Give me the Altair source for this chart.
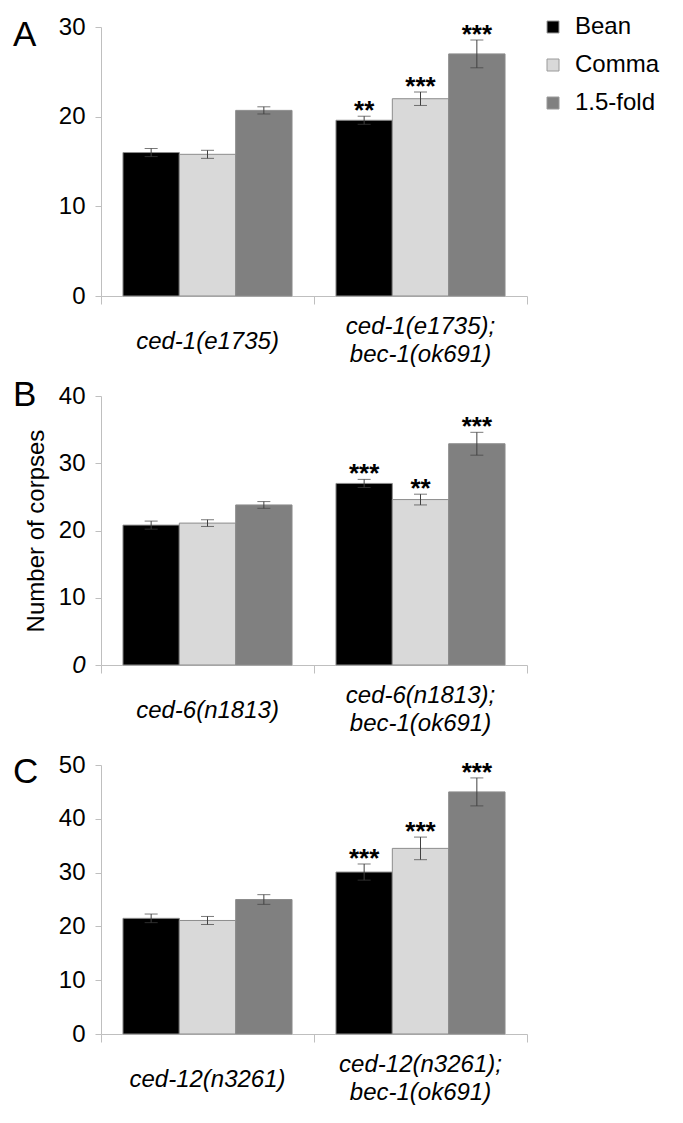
import altair as alt
import pandas as pd

FONT = "Liberation Sans"

stages = ["Bean", "Comma", "1.5-fold"]
stage_colors = ["#000000", "#d9d9d9", "#808080"]

# Panel A
geno_a = ["ced-1(e1735)", "ced-1(e1735);|bec-1(ok691)"]
bean_a = [16.0, 19.6]
comma_a = [15.8, 22.0]
fold_a = [20.7, 27.0]
bean_a_err = [0.45, 0.45]
comma_a_err = [0.45, 0.75]
fold_a_err = [0.4, 1.55]
bean_a_sig = ["", "**"]
comma_a_sig = ["", "***"]
fold_a_sig = ["", "***"]

# Panel B
geno_b = ["ced-6(n1813)", "ced-6(n1813);|bec-1(ok691)"]
bean_b = [20.8, 27.0]
comma_b = [21.1, 24.6]
fold_b = [23.8, 32.9]
bean_b_err = [0.6, 0.6]
comma_b_err = [0.5, 0.8]
fold_b_err = [0.5, 1.7]
bean_b_sig = ["", "***"]
comma_b_sig = ["", "**"]
fold_b_sig = ["", "***"]

# Panel C
geno_c = ["ced-12(n3261)", "ced-12(n3261);|bec-1(ok691)"]
bean_c = [21.5, 30.1]
comma_c = [21.1, 34.5]
fold_c = [25.0, 45.0]
bean_c_err = [0.8, 1.5]
comma_c_err = [0.75, 2.1]
fold_c_err = [0.9, 2.6]
bean_c_sig = ["", "***"]
comma_c_sig = ["", "***"]
fold_c_sig = ["", "***"]

panel_letters = ["A", "B", "C"]

AXIS_GRAY = "#bfbfbf"
W, H = 426, 269


def make_df(genos, vals, errs, sigs):
    rows = []
    for si, st in enumerate(stages):
        for gi, g in enumerate(genos):
            v = vals[si][gi]
            e = errs[si][gi]
            rows.append({"genotype": g, "stage": st, "value": v,
                         "lo": v - e, "hi": v + e, "sig": sigs[si][gi]})
    return pd.DataFrame(rows)


def panel(df, genos, ymax, letter, letter_y, ytitle, legend):
    x = alt.X("genotype:N", sort=genos,
              scale=alt.Scale(paddingInner=0, paddingOuter=0),
              axis=alt.Axis(title=None, labels=False, tickBand="extent",
                            tickSize=8, tickColor=AXIS_GRAY,
                            domainColor=AXIS_GRAY))
    xo = alt.XOffset("stage:N", sort=stages,
                     scale=alt.Scale(paddingInner=0, paddingOuter=0.39))
    yaxis = dict(values=list(range(0, ymax + 1, 10)), grid=False,
                 labelFont=FONT, labelFontSize=24, labelColor="black",
                 labelPadding=10, tickSize=6, tickColor=AXIS_GRAY,
                 domainColor=AXIS_GRAY)
    if ytitle:
        yaxis.update(title=ytitle, titleFont=FONT, titleFontSize=24,
                     titleFontWeight="normal", titleColor="black",
                     titlePadding=10)
    else:
        yaxis.update(title=None)
    if letter == "B":
        yaxis.update(labelFontStyle={"condition": {"test": "datum.value == 0",
                                                   "value": "italic"},
                                     "value": "normal"})
    yscale = alt.Scale(domain=[0, ymax], nice=False)

    if legend:
        leg = alt.Legend(title=None, orient="none", legendX=440, legendY=-12,
                         symbolType="square", symbolSize=144,
                         symbolStrokeColor="#9a9a9a", symbolStrokeWidth=1,
                         labelFont=FONT, labelFontSize=24, labelColor="black",
                         labelOffset=10, rowPadding=14)
    else:
        leg = None
    color = alt.Color("stage:N", sort=stages,
                      scale=alt.Scale(domain=stages, range=stage_colors),
                      legend=leg)

    base = alt.Chart(df)
    bars = base.mark_bar(stroke="#8c8c8c", strokeWidth=1).encode(
        x=x, xOffset=xo,
        y=alt.Y("value:Q", scale=yscale, axis=alt.Axis(**yaxis)),
        color=color)
    rule = base.mark_rule(color="#404040", strokeWidth=1).encode(
        x=x, xOffset=xo, y=alt.Y("lo:Q", scale=yscale), y2="hi:Q")
    cap_hi = base.mark_tick(color="#404040", size=13, thickness=1).encode(
        x=x, xOffset=xo, y=alt.Y("hi:Q", scale=yscale))
    cap_lo = base.mark_tick(color="#404040", size=13, thickness=1).encode(
        x=x, xOffset=xo, y=alt.Y("lo:Q", scale=yscale))
    stars = base.mark_text(font=FONT, fontSize=26, fontWeight="bold",
                           baseline="alphabetic", dy=3,
                           color="black").encode(
        x=x, xOffset=xo, y=alt.Y("hi:Q", scale=yscale), text="sig:N")

    # category labels under the x axis (one- and two-line)
    gdf = pd.DataFrame({"genotype": genos})
    lab_single = alt.Chart(gdf).transform_filter(
        "indexof(datum.genotype, '|') < 0").mark_text(
        font=FONT, fontSize=24, fontStyle="italic", baseline="middle",
        dy=46, color="black").encode(
        x=x, y=alt.value(H), text="genotype:N")
    lab_double = alt.Chart(gdf).transform_filter(
        "indexof(datum.genotype, '|') >= 0").mark_text(
        font=FONT, fontSize=24, fontStyle="italic", baseline="middle",
        dy=31, lineBreak="|", lineHeight=28, color="black").encode(
        x=x, y=alt.value(H), text="genotype:N")

    label = alt.Chart(pd.DataFrame({"letter": [letter]})).mark_text(
        font=FONT, fontSize=35, align="left", baseline="alphabetic",
        color="black").encode(
        text="letter:N", x=alt.value(-88), y=alt.value(letter_y))

    return alt.layer(bars, rule, cap_hi, cap_lo, stars, lab_single,
                     lab_double, label).properties(width=W, height=H)


df_a = make_df(geno_a, [bean_a, comma_a, fold_a],
               [bean_a_err, comma_a_err, fold_a_err],
               [bean_a_sig, comma_a_sig, fold_a_sig])
df_b = make_df(geno_b, [bean_b, comma_b, fold_b],
               [bean_b_err, comma_b_err, fold_b_err],
               [bean_b_sig, comma_b_sig, fold_b_sig])
df_c = make_df(geno_c, [bean_c, comma_c, fold_c],
               [bean_c_err, comma_c_err, fold_c_err],
               [bean_c_sig, comma_c_sig, fold_c_sig])

pa = panel(df_a, geno_a, 30, panel_letters[0], 19, None, True)
pb = panel(df_b, geno_b, 40, panel_letters[1], 10, "Number of corpses", False)
pc = panel(df_c, geno_c, 50, panel_letters[2], 18, None, False)

chart = alt.vconcat(pa, pb, pc, spacing=100, bounds="flush").resolve_legend(
    color="independent"
).properties(
    padding={"left": 5, "top": 7, "right": 5, "bottom": 5}
).configure(font=FONT).configure_view(stroke=None)

chart.save("out.html", embed_options={"renderer": "svg", "actions": False})
